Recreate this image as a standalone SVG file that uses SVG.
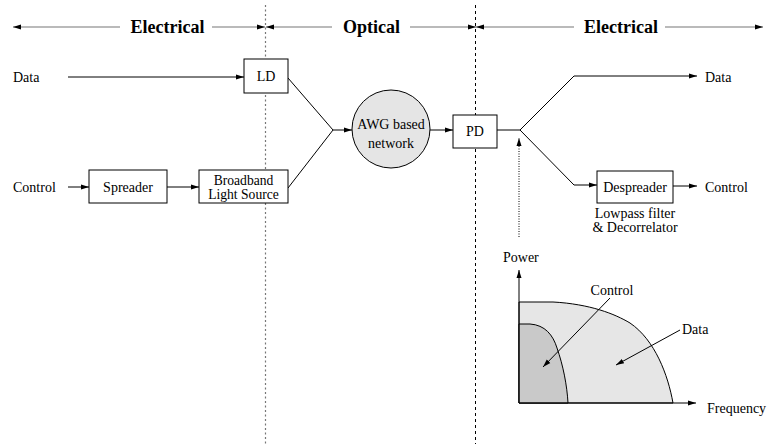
<svg xmlns="http://www.w3.org/2000/svg" width="769" height="444" viewBox="0 0 769 444" font-family="Liberation Serif, Times New Roman, serif">
<defs>
<marker id="ah" markerUnits="userSpaceOnUse" markerWidth="10" markerHeight="8" refX="8" refY="4" orient="auto">
<path d="M0,1.5 L8,4 L0,6.5 Z" fill="#000"/>
</marker>
<marker id="ahs" markerUnits="userSpaceOnUse" markerWidth="10" markerHeight="8" refX="8" refY="4" orient="auto-start-reverse">
<path d="M0,1.5 L8,4 L0,6.5 Z" fill="#000"/>
</marker>
</defs>
<style>
text{font-family:"Liberation Serif","Times New Roman","DejaVu Serif",serif;font-size:14px;fill:#000}
.hd{font-size:18px;font-weight:bold}
.c{text-anchor:middle}
.sm{font-size:13.6px}
.box{fill:#fff;stroke:#000;stroke-width:1}
.ln{fill:none;stroke:#000;stroke-width:1}
.ar{fill:none;stroke:#000;stroke-width:1;marker-end:url(#ah)}
.hl{fill:none;stroke:#777;stroke-width:1.2}
</style>
<rect width="769" height="444" fill="#fff"/>

<g id="header">
<line class="hl" x1="13" y1="27" x2="120" y2="27" marker-start="url(#ahs)"/>
<text class="hd c" x="167.5" y="33">Electrical</text>
<line class="hl" x1="212" y1="27" x2="265" y2="27" marker-end="url(#ah)"/>
<line class="hl" x1="266" y1="27" x2="332" y2="27" marker-start="url(#ahs)"/>
<text class="hd c" x="371.5" y="33">Optical</text>
<line class="hl" x1="410" y1="27" x2="476" y2="27" marker-end="url(#ah)"/>
<line class="hl" x1="476" y1="27" x2="574" y2="27" marker-start="url(#ahs)"/>
<text class="hd c" x="621" y="33">Electrical</text>
<line class="hl" x1="665" y1="27" x2="763" y2="27" marker-end="url(#ah)"/>
</g>

<g id="boundaries">
<line x1="265.5" y1="5" x2="265.5" y2="444" stroke="#777" stroke-width="1.2" stroke-dasharray="2,2.5"/>
<line x1="475.5" y1="5" x2="475.5" y2="444" stroke="#000" stroke-width="1" stroke-dasharray="3,3"/>
</g>

<g id="connectors">
<line class="ar" x1="68" y1="77" x2="244" y2="77"/>
<line class="ar" x1="68" y1="187" x2="89" y2="187"/>
<line class="ar" x1="167" y1="187" x2="199" y2="187"/>
<polyline class="ln" points="288,78 333,130 288,188"/>
<line class="ar" x1="333" y1="130" x2="352" y2="130"/>
<line class="ar" x1="430" y1="130" x2="453" y2="130"/>
<line class="ln" x1="497" y1="130" x2="520" y2="130"/>
<polyline class="ar" points="520,130 574,76 697,76"/>
<polyline class="ar" points="520,130 574,185 597,185"/>
<line class="ar" x1="673" y1="186" x2="697" y2="186"/>
<line class="ar" x1="519" y1="237" x2="519" y2="138" stroke-dasharray="1,1.5"/>
</g>

<g id="in-data"><text x="13" y="82">Data</text></g>
<g id="in-control"><text x="13" y="192">Control</text></g>
<g id="ld"><rect class="box" x="244" y="59" width="44" height="34"/><text class="c" x="266" y="81">LD</text></g>
<g id="spreader"><rect class="box" x="89" y="170" width="78" height="33"/><text class="c" x="128" y="192">Spreader</text></g>
<g id="bls"><rect class="box" x="199" y="170" width="89" height="33"/><text class="c sm" x="243.5" y="185">Broadband</text><text class="c sm" x="243.5" y="199">Light Source</text></g>
<g id="awg"><circle cx="391" cy="129" r="39" fill="#e5e5e5" stroke="#000" stroke-width="1"/><text class="c" x="391" y="129">AWG based</text><text class="c" x="391" y="148">network</text></g>
<g id="pd"><rect class="box" x="453" y="115" width="44" height="33"/><text class="c" x="475" y="136">PD</text></g>
<g id="out-data"><text x="705" y="82">Data</text></g>
<g id="despreader"><rect class="box" x="597" y="171" width="76" height="32"/><text class="c" x="635" y="192">Despreader</text><text class="c" x="635" y="218">Lowpass filter</text><text class="c" x="635" y="232">&amp; Decorrelator</text></g>
<g id="out-control"><text x="705" y="192">Control</text></g>

<g id="spectrum">
<path d="M519,403 L519,302 L553,302 C590,304 615,314 630,323 C655,340 668,375 673,403 Z" fill="#e6e6e6" stroke="#000" stroke-width="1"/>
<path d="M519,403 L519,324 L530,324 C545,325 553,335 557,348 C563,365 567,385 568,403 Z" fill="#c9c9c9" stroke="#000" stroke-width="1"/>
<line class="ar" x1="519" y1="403" x2="519" y2="270"/>
<line class="ar" x1="519" y1="403" x2="696" y2="403"/>
<text x="503" y="262">Power</text>
<text x="707" y="413">Frequency</text>
<text class="c" x="612" y="295">Control</text>
<line class="ar" x1="610" y1="298" x2="543" y2="367"/>
<text x="682" y="334">Data</text>
<line class="ar" x1="680" y1="330" x2="616" y2="365"/>
</g>
</svg>
